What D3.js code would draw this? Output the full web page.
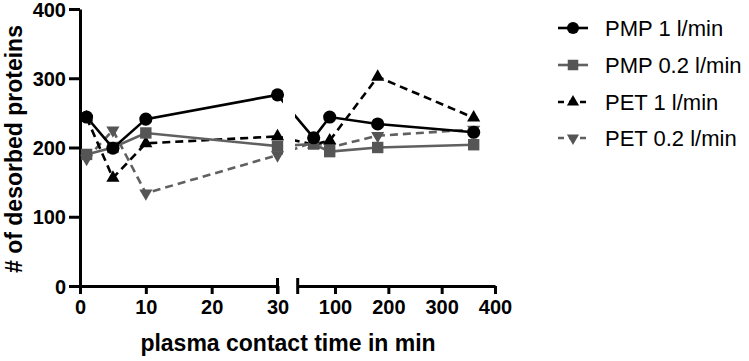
<!DOCTYPE html>
<html>
<head>
<meta charset="utf-8">
<script src="https://cdn.jsdelivr.net/npm/d3@7"></script>
<style>
  html, body { margin: 0; padding: 0; background: #fff; }
  svg { display: block; }
</style>
</head>
<body>
<svg id="chart" width="749" height="361"></svg>
<script>
const times = [1, 5, 10, 30, 60, 90, 180, 360];
const pmp1  = [244, 199, 241, 276, 214, 244, 234, 222];
const pmp02 = [190, 200, 221, 202, 205, 194, 200, 204];
const pet1  = [243, 156, 206, 216, 204, 210, 302, 243];
const pet02 = [184, 225, 134, 189, 208, 200, 217, 226];
const seriesNames = ["PMP 1 l/min", "PMP 0.2 l/min", "PET 1 l/min", "PET 0.2 l/min"];
const yTicks = [0, 100, 200, 300, 400];
const xTicks1 = [0, 10, 20, 30];
const xTicks2 = [100, 200, 300, 400];

const svg = d3.select("#chart");
const FONT = "'Liberation Sans', Arial, Helvetica, sans-serif";

const y = d3.scaleLinear().domain([0, 400]).range([286, 9]);
const xs1 = d3.scaleLinear().domain([0, 30]).range([80, 277.5]);
const xs2 = d3.scaleLinear().domain([30, 400]).range([297.7, 495]);
const x = v => (v <= 30 ? xs1(v) : xs2(v));

const styles = [
  { color: "#000", line: "#000", dash: null, sym: d3.symbolCircle, size: 135, rot: 0 },
  { color: "#555", line: "#606060", dash: null, sym: d3.symbolSquare, size: 130, rot: 0 },
  { color: "#000", line: "#000", dash: "8,5", sym: d3.symbolTriangle, size: 75, rot: 0 },
  { color: "#555", line: "#606060", dash: "8,5", sym: d3.symbolTriangle, size: 75, rot: 180 }
];
const values = [pmp1, pmp02, pet1, pet02];

// clip paths for the broken axis
const defs = svg.append("defs");
const cp = defs.append("clipPath").attr("id", "brk");
cp.append("rect").attr("x", 0).attr("y", 0).attr("width", 283).attr("height", 361);
cp.append("rect").attr("x", 295).attr("y", 0).attr("width", 460).attr("height", 361);

// axes
const axStyle = g => {
  g.selectAll("path, line").attr("stroke", "#000").attr("stroke-width", 3);
  g.selectAll("text").attr("font-family", FONT).attr("font-weight", "bold")
    .attr("font-size", 20).attr("fill", "#000");
};
svg.append("g").attr("transform", "translate(80,0)")
  .call(d3.axisLeft(y).tickValues(yTicks).tickSize(11).tickSizeOuter(0).tickPadding(3).tickFormat(d3.format("d")))
  .call(axStyle)
  .call(g => g.selectAll("text").attr("dy", "0.36em"));

svg.append("g").attr("transform", "translate(0,286)")
  .call(d3.axisBottom(xs1).tickValues(xTicks1).tickSize(8).tickSizeOuter(0).tickPadding(6).tickFormat(d3.format("d")))
  .call(axStyle);
svg.append("g").attr("transform", "translate(0,286)")
  .call(d3.axisBottom(xs2).tickValues(xTicks2).tickSize(8).tickSizeOuter(0).tickPadding(6).tickFormat(d3.format("d")))
  .call(axStyle);
// break caps
[xs1.range()[1], xs2.range()[0]].forEach(px => {
  svg.append("line").attr("x1", px).attr("x2", px).attr("y1", 278).attr("y2", 294)
    .attr("stroke", "#000").attr("stroke-width", 3);
});

// axis titles
svg.append("text").attr("transform", "translate(22,149) rotate(-90)")
  .attr("text-anchor", "middle").attr("font-family", FONT).attr("font-weight", "bold")
  .attr("font-size", 23).text("# of desorbed proteins");
svg.append("text").attr("x", 288).attr("y", 351)
  .attr("text-anchor", "middle").attr("font-family", FONT).attr("font-weight", "bold")
  .attr("font-size", 23).text("plasma contact time in min");

// series
const line = d3.line().x(d => x(d[0])).y(d => y(d[1]));
const plot = svg.append("g");
for (let s = values.length - 1; s >= 0; s--) {
  const st = styles[s];
  const pts = times.map((t, i) => [t, values[s][i]]);
  plot.append("path").datum(pts).attr("d", line)
    .attr("fill", "none").attr("stroke", st.line).attr("stroke-width", 2.6)
    .attr("stroke-dasharray", st.dash).attr("clip-path", "url(#brk)");
  plot.selectAll(null).data(pts).enter().append("path")
    .attr("d", d3.symbol().type(st.sym).size(st.size))
    .attr("transform", d => `translate(${x(d[0])},${y(d[1])}) rotate(${st.rot})`)
    .attr("fill", st.color);
}

// legend
const lg = svg.append("g");
const rowsY = [28, 65, 102, 138];
seriesNames.forEach((name, i) => {
  const st = styles[i];
  const cy = rowsY[i];
  lg.append("line").attr("x1", 558).attr("x2", 588).attr("y1", cy).attr("y2", cy)
    .attr("stroke", st.line).attr("stroke-width", 2.6)
    .attr("stroke-dasharray", st.dash ? "6,5" : null);
  lg.append("path").attr("d", d3.symbol().type(st.sym).size(st.size * 0.85))
    .attr("transform", `translate(573,${cy}) rotate(${st.rot})`).attr("fill", st.color);
  lg.append("text").attr("x", 605).attr("y", cy + 8)
    .attr("font-family", FONT).attr("font-size", 22).attr("fill", "#000").text(name);
});
</script>
</body>
</html>
